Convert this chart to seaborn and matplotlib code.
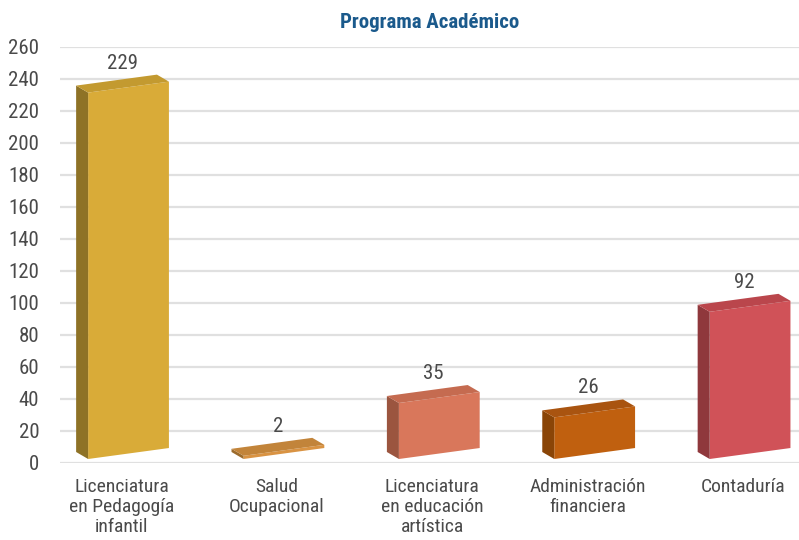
import matplotlib
matplotlib.use("Agg")
import matplotlib.pyplot as plt
import matplotlib.transforms as mtransforms
from matplotlib.patches import Polygon
import numpy as np
import pandas as pd
import seaborn as sns

categories = ["Licenciatura\nen Pedagogía\ninfantil", "Salud\nOcupacional",
              "Licenciatura\nen educación\nartística", "Administración\nfinanciera",
              "Contaduría"]
values = [229, 2, 35, 26, 92]
front_colors = ["#D9AB38", "#D99343", "#D9775B", "#C0600F", "#D05258"]
side_colors = ["#8E7226", "#9C6B2C", "#9B553F", "#8A4507", "#8F383C"]
top_colors = ["#C39A30", "#C2843A", "#C56B50", "#A95410", "#BA464C"]
yticks = list(range(0, 261, 20))
title = "Programa Académico"

sns.set_theme(style="white")
plt.rcParams['font.family'] = ['Roboto Condensed', 'Liberation Sans Narrow', 'Roboto', 'DejaVu Sans']

df = pd.DataFrame({"cat": categories, "val": values})

fig = plt.figure(figsize=(7.99, 5.40), dpi=100)
ax = fig.add_axes([60/799, (540-463)/540, (799-60)/799, (463-47)/540])

sns.barplot(data=df, x="cat", y="val", hue="cat", palette=front_colors,
            width=0.52, legend=False, ax=ax, saturation=1, zorder=3)

ax.set_xlim(-0.441, 4.315)
ax.set_ylim(0, 260)
ax.set_yticks(yticks)
ax.set_xlabel("")
ax.set_ylabel("")
for s in ax.spines.values():
    s.set_visible(False)
ax.grid(axis="y", color="#E0E0E0", lw=1.6, zorder=0)
ax.set_axisbelow(True)
ax.tick_params(axis="y", length=0, pad=15, labelsize=15, labelcolor="#4A4A4A")
ax.tick_params(axis="x", length=0, pad=11, labelsize=14, labelcolor="#4A4A4A")
for lab in ax.get_xticklabels():
    lab.set_linespacing(1.13)
    lab.set_transform(lab.get_transform() + mtransforms.ScaledTranslation(-7/100, 0, fig.dpi_scale_trans))

ax.set_title(title, fontsize=15, fontweight="bold", color="#1B5A8C", pad=14)

slope = 11 / 81.0
depth = np.array([-12.0, 7.0])
ident = mtransforms.IdentityTransform()
for i, p in enumerate(ax.patches[:len(values)]):
    x0, y0 = p.get_x(), p.get_y()
    w, h = p.get_width(), p.get_height()
    bl = ax.transData.transform((x0, y0))
    skew = mtransforms.Affine2D().translate(-bl[0], -bl[1]).skew(0, np.arctan(slope)).translate(bl[0], bl[1] + 4)
    p.set_transform(ax.transData + skew)
    p.set_edgecolor("none")
    corners = ax.transData.transform([(x0, y0), (x0, y0 + h), (x0 + w, y0 + h)])
    corners = skew.transform(corners)
    fl_b, fl_t, fr_t = corners
    side = Polygon([fl_b, fl_t, fl_t + depth, fl_b + depth], closed=True,
                   facecolor=side_colors[i], edgecolor="none", transform=ident, zorder=3)
    top = Polygon([fl_t, fr_t, fr_t + depth, fl_t + depth], closed=True,
                  facecolor=top_colors[i], edgecolor="none", transform=ident, zorder=3)
    ax.add_artist(side)
    ax.add_artist(top)
    cx = x0 + w / 2
    ax.annotate(f"{values[i]}", xy=(cx, y0 + h), xytext=(-6, 24), textcoords="offset pixels",
                ha="center", va="bottom", fontsize=15, color="#4A4A4A", zorder=4)

fig.savefig("out.png", dpi=100)
